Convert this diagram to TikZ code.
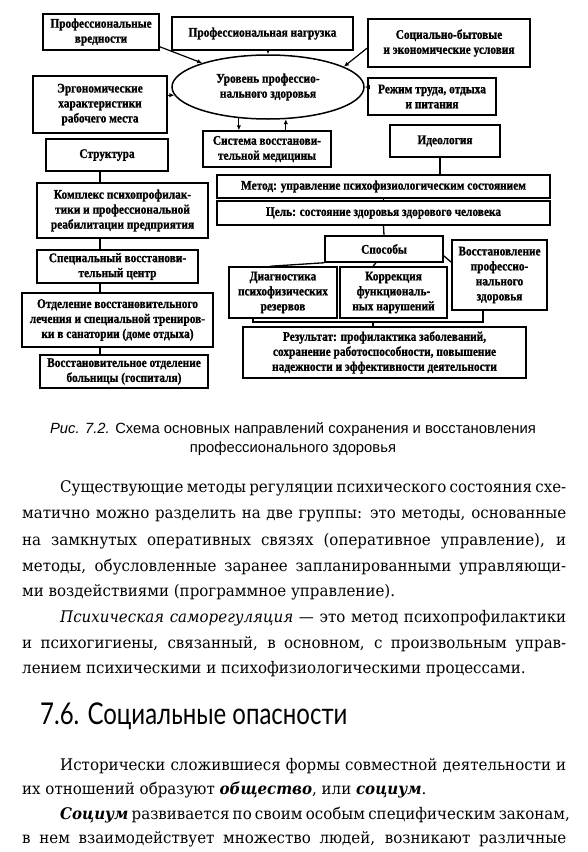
\documentclass[tikz,border=0pt]{standalone}
\usepackage{fontspec}
\setmainfont{DejaVu Serif}[FakeStretch=0.94]
\newfontfamily\capfont{Liberation Sans}
\newfontfamily\dfont{Liberation Serif}[FakeStretch=0.86,BoldFeatures={FakeBold=1}]
\newfontfamily\hfont{Lato}
\usetikzlibrary{shapes.geometric,arrows.meta,calc}
\newcommand{\jl}[1]{\makebox[544pt][s]{#1}}
\newcommand{\jli}[1]{\makebox[506pt][s]{#1}}
\begin{document}
\begin{tikzpicture}[x=1pt,y=-1pt,
 bx/.style 2 args={draw,line width=1.5pt,inner sep=0pt,align=center,minimum width=#1,minimum height=#2,
   font=\dfont\bfseries\fontsize{13.2}{15}\selectfont},
 ln/.style={line width=1.3pt},
 arr/.style={line width=1.2pt,-{Latex[length=5pt,width=4.5pt]}},
 bt/.style={anchor=base west,inner sep=0pt,font=\fontsize{16}{18}\selectfont}
]
\fill[white] (0,0) rectangle (588,852);
\useasboundingbox (0,0) rectangle (588,852);
% ---- boxes
\node[bx={116pt}{36pt}] (vred) at (101,32) {Профессиональные\\вредности};
\node[bx={181pt}{33pt}] (nagr) at (262.5,33.5) {Профессиональная нагрузка};
\node[bx={162pt}{48pt}] (soc) at (449,43) {Социально-бытовые\\и экономические условия};
\node[ellipse,draw,line width=1.5pt,inner sep=0pt,minimum width=192pt,minimum height=64pt,align=center,
   font=\dfont\bfseries\fontsize{13.2}{15}\selectfont] (ell) at (268,87) {Уровень профессио-\\нального здоровья};
\node[bx={134pt}{57pt}] (ergo) at (100,104.5) {Эргономические\\характеристики\\рабочего места};
\node[bx={128pt}{37pt}] (rezh) at (432,96.5) {Режим труда, отдыха\\и питания};
\node[bx={128pt}{36pt}] (sys) at (267,149) {Система восстанови-\\тельной медицины};
\node[bx={122pt}{32pt}] (str) at (107,155) {Структура};
\node[bx={110pt}{32pt}] (ideo) at (445,141) {Идеология};
\node[bx={171pt}{55pt}] (kompl) at (122.5,210.5) {Комплекс психопрофилак-\\тики и профессиональной\\реабилитации предприятия};
\node[bx={161pt}{33pt}] (spec) at (117.5,266.5) {Специальный восстанови-\\тельный центр};
\node[bx={191pt}{54pt}] (otd) at (117.5,320) {Отделение восстановительного\\лечения и специальной трениров-\\ки в санатории (доме отдыха)};
\node[bx={168pt}{33pt}] (bol) at (124,371.5) {Восстановительное отделение\\больницы (госпиталя)};
\node[bx={333pt}{23pt}] (metod) at (383.5,186.5) {Метод: управление психофизиологическим состоянием};
\node[bx={333pt}{24pt}] (cel) at (383.5,213) {Цель: состояние здоровья здорового человека};
\node[bx={118pt}{26pt}] (sposob) at (384,249) {Способы};
\node[bx={108pt}{51pt}] (diag) at (283,292.5) {Диагностика\\психофизических\\резервов};
\node[bx={107pt}{51pt}] (korr) at (393.5,292.5) {Коррекция\\функциональ-\\ных нарушений};
\node[bx={95pt}{70pt}] (vosst) at (499.5,275) {Восстановление\\профессио-\\нального\\здоровья};
\node[bx={283pt}{51pt}] (rez) at (384.5,352.5) {Результат: профилактика заболеваний,\\сохранение работоспособности, повышение\\надежности и эффективности деятельности};
% ---- helper coordinates
\coordinate (x100) at (100,0);
\coordinate (x440) at (440,0);
\coordinate (x253) at (253,0);
\coordinate (x373) at (373,0);
\coordinate (x483) at (483,0);
\coordinate (x270) at (270,0);
\coordinate (x376) at (376,0);
\coordinate (b1) at (253,322);
\coordinate (b2) at (483,322);
\coordinate (b3) at (373,322);
% ---- connectors to the ellipse
\draw[arr] ($(vred.south east)+(0,-4)$) -- (ell.160);
\draw[arr] (ell.north |- nagr.south) -- (ell.north);
\draw[arr] ($(soc.west)+(0,5)$) -- (ell.15);
\draw[arr] (ergo.east |- ell.185) -- (ell.185);
\draw[arr] (rezh.west |- ell.east) -- (ell.east);
\draw[arr] (ell.227.5) -- (ell.227.5 |- sys.north);
\draw[arr] (ell.-61.6 |- sys.north) -- (ell.-61.6);
% ---- lines
\draw[ln] ($(str.north east)+(0,7)$) -- ($(str.north east)+(0,7)$ -| sys.west);
\draw[ln] ($(sys.north east)+(0,8)$) -- ($(sys.north east)+(0,8)$ -| ideo.west);
\draw[ln] (str.south -| x100) -- (kompl.north -| x100);
\draw[ln] (kompl.south -| x100) -- (spec.north -| x100);
\draw[ln] (spec.south -| x100) -- (otd.north -| x100);
\draw[ln] (otd.south -| x100) -- (bol.north -| x100);
\draw[ln] (ideo.south -| x440) -- (metod.north -| x440);
\draw[ln] (metod.south) -- (cel.north);
\draw[ln] (cel.south) -- (sposob.north);
\draw[ln] (sposob.south west) -- (diag.north -| x270);
\draw[ln] (sposob.south -| x376) -- (korr.north -| x373);
\draw[ln] ($(sposob.south east)+(0,-7)$) -- ($(vosst.north west)+(0,23)$);
\draw[ln] (diag.south -| x253) -- (b1) -- (b2) -- (vosst.south -| x483);
\draw[ln] (b3) -- (rez.north -| x373);
% ---- caption
\node[align=center,inner sep=0pt,font=\capfont\fontsize{14.8}{19}\selectfont] (cap) at (293,439)
 {\textit{Рис. 7.2.} Схема основных направлений сохранения и восстановления\\профессионального здоровья};
% ---- body text
\node[bt] (t1) at (60,492) {\jli{Существующие методы регуляции психического состояния схе-}};
\node[bt] (t2) at (22,518) {\jl{матично можно разделить на две группы: это методы, основанные}};
\node[bt] (t3) at (22,545) {\jl{на замкнутых оперативных связях (оперативное управление), и}};
\node[bt] (t4) at (22,571) {\jl{методы, обусловленные заранее запланированными управляющи-}};
\node[bt] (t5) at (22,596) {ми воздействиями (программное управление).};
\node[bt] (t6) at (60,622) {\jli{\textit{Психическая саморегуляция} — это метод психопрофилактики}};
\node[bt] (t7) at (22,648) {\jl{и психогигиены, связанный, в основном, с произвольным управ-}};
\node[bt] (t8) at (22,673) {лением психическими и психофизиологическими процессами.};
\node[anchor=base west,inner sep=0pt,font=\hfont\fontsize{30}{30}\selectfont] (head) at (40,724) {\scalebox{0.8}[1]{7.6. Социальные опасности}};
\node[bt] (t9) at (60,770) {\jli{Исторически сложившиеся формы совместной деятельности и}};
\node[bt] (t10) at (22,794) {их отношений образуют \textbf{\textit{общество}}, или \textbf{\textit{социум}}.};
\node[bt] (t11) at (60,819) {\jli{\textbf{\textit{Социум}} развивается по своим особым специфическим законам,}};
\node[bt] (t12) at (22,843) {\jl{в нем взаимодействует множество людей, возникают различные}};
\end{tikzpicture}
\end{document}
